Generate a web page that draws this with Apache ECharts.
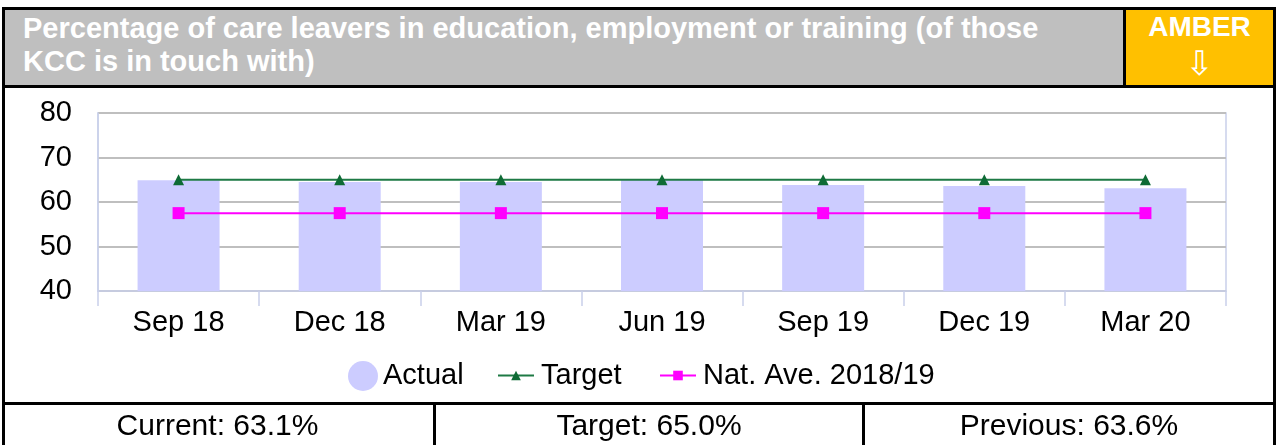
<!DOCTYPE html>
<html>
<head>
<meta charset="utf-8">
<script src="https://cdn.jsdelivr.net/npm/echarts@6/dist/echarts.min.js"></script>
<style>
html,body{margin:0;padding:0;background:#fff;}
body{width:1276px;height:445px;position:relative;overflow:hidden;font-family:"Liberation Sans",Arial,sans-serif;}
#chart{position:absolute;left:0;top:0;width:1276px;height:445px;}
.box{position:absolute;box-sizing:border-box;}
#frame{left:2px;top:7px;width:1274px;height:460px;border:3px solid #000;}
#head{left:2px;top:7px;width:1124px;height:81px;background:#BFBFBF;border:3px solid #000;border-right:none;}
#amber{left:1123px;top:7px;width:153px;height:81px;background:#FFC000;border:3px solid #000;}
#title{position:absolute;left:18px;top:2px;color:#fff;font-weight:bold;font-size:29px;line-height:33px;white-space:nowrap;}
#amberTxt{position:absolute;left:0;right:0;top:1px;text-align:center;color:#fff;font-weight:bold;font-size:28px;line-height:32px;}
#arrow{position:absolute;left:0;right:0;top:34px;text-align:center;color:#fff;font-family:"DejaVu Sans";font-size:34px;line-height:38px;}
#table{left:2px;top:402px;width:1274px;height:60px;border-top:3px solid #000;}
.cell{position:absolute;top:0;height:45px;text-align:center;font-size:30px;line-height:40px;color:#000;}
.div{position:absolute;top:0;width:3px;height:50px;background:#000;}
</style>
</head>
<body>
<div id="chart"></div>
<div class="box" id="frame"></div>
<div class="box" id="head"><div id="title">Percentage of care leavers in education, employment or training (of those<br>KCC is in touch with)</div></div>
<div class="box" id="amber"><div id="amberTxt">AMBER</div><div id="arrow">⇩</div></div>
<div class="box" id="table">
  <div class="cell" style="left:0;width:431px;">Current: 63.1%</div>
  <div class="div" style="left:431px;"></div>
  <div class="cell" style="left:434px;width:426px;">Target: 65.0%</div>
  <div class="div" style="left:860px;"></div>
  <div class="cell" style="left:863px;width:408px;">Previous: 63.6%</div>
</div>
<script>
const categories = ['Sep 18','Dec 18','Mar 19','Jun 19','Sep 19','Dec 19','Mar 20'];
const actual = [64.9, 64.5, 64.5, 65.0, 63.8, 63.6, 63.1];
const target = [65, 65, 65, 65, 65, 65, 65];
const natAve = [57.5, 57.5, 57.5, 57.5, 57.5, 57.5, 57.5];
const yTicks = [40, 50, 60, 70, 80];

const chart = echarts.init(document.getElementById('chart'), null, {renderer:'canvas'});
const font = '"Liberation Sans", Arial, sans-serif';
const legendText = {fontSize:29, color:'#000', fontFamily:font};
chart.setOption({
  animation:false,
  grid:{left:98, right:50, top:113, bottom:154, show:true, borderColor:'#c9d0ea', borderWidth:1.5, backgroundColor:'transparent'},
  xAxis:{
    type:'category', data:categories,
    axisLine:{lineStyle:{color:'#c9d0ea', width:1.5}},
    axisTick:{show:true, length:15, lineStyle:{color:'#c9d0ea', width:1.5}},
    axisLabel:{fontSize:29, color:'#000', fontFamily:font, margin:17}
  },
  yAxis:{
    type:'value', min:yTicks[0], max:yTicks[yTicks.length-1], interval:10,
    axisLine:{show:true, lineStyle:{color:'#c9d0ea', width:1.5}},
    axisTick:{show:false},
    splitLine:{lineStyle:{color:'#bfbfbf', width:2}},
    axisLabel:{fontSize:29, color:'#000', fontFamily:font, margin:26}
  },
  legend:[
    {data:[{name:'Actual', icon:'circle'}], left:343, top:356, itemWidth:30, itemHeight:30, textStyle:legendText},
    {data:['Target'], left:492, top:356, itemWidth:36, itemHeight:12, textStyle:Object.assign({padding:[0,0,0,2]}, legendText)},
    {data:['Nat. Ave. 2018/19'], left:654, top:356, itemWidth:36, itemHeight:12, textStyle:Object.assign({padding:[0,0,0,2]}, legendText)}
  ],
  series:[
    {name:'Actual', type:'bar', data:actual, barWidth:82, itemStyle:{color:'#CCCCFF'}},
    {name:'Target', type:'line', data:target, symbol:'triangle', symbolSize:11,
     lineStyle:{color:'#1E7A45', width:2}, itemStyle:{color:'#0E6B35'}},
    {name:'Nat. Ave. 2018/19', type:'line', data:natAve, symbol:'rect', symbolSize:12,
     lineStyle:{color:'#FF00FF', width:2}, itemStyle:{color:'#FF00FF'}}
  ]
});
</script>
</body>
</html>
